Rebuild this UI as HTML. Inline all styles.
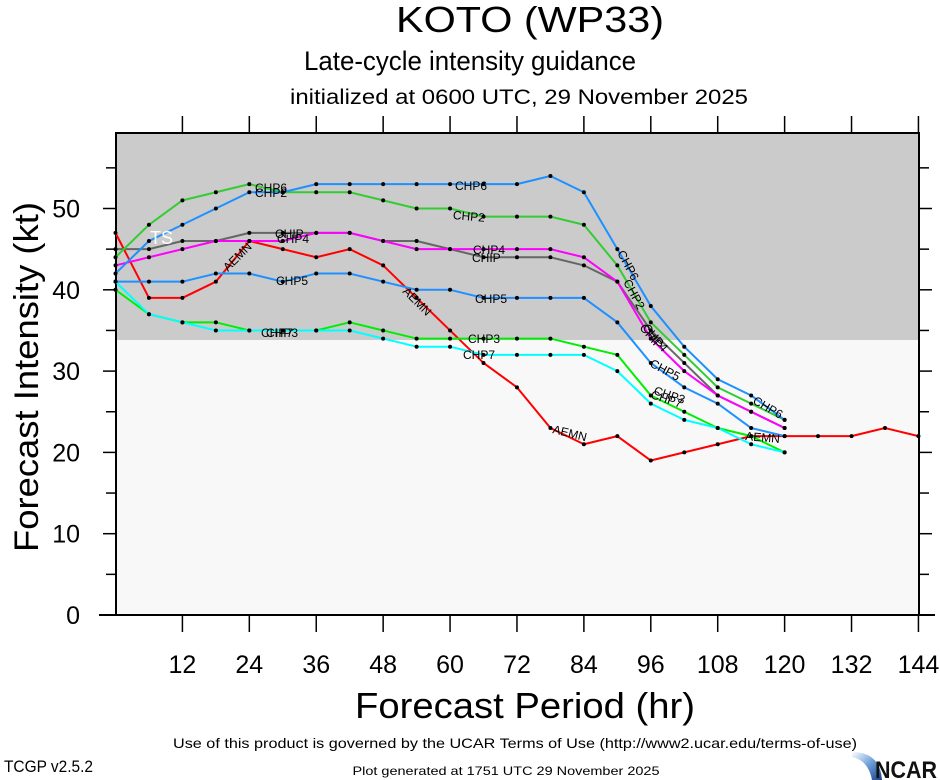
<!DOCTYPE html>
<html><head><meta charset="utf-8"><style>
html,body{margin:0;padding:0;background:#fff;}
svg{display:block;font-family:"Liberation Sans",sans-serif;}
</style></head><body>
<svg id="s" width="940" height="780" viewBox="0 0 940 780" xmlns="http://www.w3.org/2000/svg">
<rect x="0" y="0" width="940" height="780" fill="#fff"/>
<text x="530" y="32" font-size="36" text-anchor="middle" textLength="268" lengthAdjust="spacingAndGlyphs">KOTO (WP33)</text>
<text x="470" y="70" font-size="27" text-anchor="middle" textLength="332" lengthAdjust="spacingAndGlyphs">Late-cycle intensity guidance</text>
<text x="519" y="104" font-size="21" text-anchor="middle" textLength="458" lengthAdjust="spacingAndGlyphs">initialized at 0600 UTC, 29 November 2025</text>
<rect x="116" y="133" width="803" height="482" fill="#f8f8f8"/>
<rect x="116" y="133" width="803" height="207" fill="#cbcbcb"/>
<g id="ticks" stroke="#000" stroke-width="1.5"></g>
<rect x="116" y="133" width="803" height="482" fill="none" stroke="#000" stroke-width="2"/>
<line x1="99" y1="615" x2="935" y2="615" stroke="#000" stroke-width="2"/>
<g id="ylab" font-size="25" text-anchor="end"></g>
<g id="xlab" font-size="25" text-anchor="middle"></g>
<text transform="translate(38,377) rotate(-90)" font-size="34" text-anchor="middle" textLength="350" lengthAdjust="spacingAndGlyphs">Forecast Intensity (kt)</text>
<text x="525" y="718" font-size="36" text-anchor="middle" textLength="340" lengthAdjust="spacingAndGlyphs">Forecast Period (hr)</text>
<g id="series"></g>
<g font-size="12" fill="#000">
<text x="150" y="244" font-size="18" fill="#fff">TS</text>
<text x="255" y="192">CHP6</text><text x="255" y="197">CHP2</text>
<text x="275" y="238">CHIP</text><text x="277" y="243">CHP4</text>
<text x="276" y="285">CHP5</text>
<text x="261" y="337">CHP7</text><text x="266" y="337">CHP3</text>
<text transform="translate(228,272) rotate(-45)">AEMN</text>
<text x="455" y="190">CHP6</text>
<text x="453" y="219" transform="rotate(5 453 215)">CHP2</text>
<text x="473" y="254">CHP4</text><text x="472" y="262">CHIP</text>
<text x="475" y="303">CHP5</text>
<text transform="translate(402,292) rotate(45)">AEMN</text>
<text x="468" y="343">CHP3</text>
<text x="463" y="359">CHP7</text>
<text transform="translate(552,433) rotate(14)">AEMN</text>
<text transform="translate(617,253) rotate(62)">CHP6</text>
<text transform="translate(623,282) rotate(62)">CHP2</text>
<text transform="translate(639,328) rotate(50)">CHIP</text>
<text transform="translate(642,328) rotate(50)">CHP4</text>
<text transform="translate(649,366) rotate(28)">CHP5</text>
<text transform="translate(653,394) rotate(18)">CHP3</text>
<text transform="translate(650,398) rotate(18)">CHP7</text>
<text transform="translate(752,403) rotate(30)">CHP6</text>
<text transform="translate(745,440) rotate(5)">AEMN</text>
</g>
<text x="515" y="748" font-size="14" text-anchor="middle" textLength="684" lengthAdjust="spacingAndGlyphs">Use of this product is governed by the UCAR Terms of Use (http://www2.ucar.edu/terms-of-use)</text>
<text x="4" y="772" font-size="17" textLength="89" lengthAdjust="spacingAndGlyphs">TCGP v2.5.2</text>
<text x="506" y="775" font-size="12" text-anchor="middle" textLength="307" lengthAdjust="spacingAndGlyphs">Plot generated at 1751 UTC   29 November 2025</text>
<defs><linearGradient id="ng" x1="0" y1="0" x2="1" y2="1"><stop offset="0" stop-color="#fff"/><stop offset="0.5" stop-color="#6fa0d8"/><stop offset="1" stop-color="#1a3f8a"/></linearGradient></defs>
<path d="M852 752 Q880 752 882 780 L872 780 Q868 760 852 757Z" fill="url(#ng)"/>
<text x="875" y="778" font-size="24" font-weight="bold" fill="#111" textLength="62" lengthAdjust="spacingAndGlyphs">NCAR</text>
</svg>
<script>
var NS="http://www.w3.org/2000/svg";
function X(h){return 115.5+h*5.576;}
function Y(v){return 615-v*8.13;}
function el(t,a,p){var e=document.createElementNS(NS,t);for(var k in a)e.setAttribute(k,a[k]);p.appendChild(e);return e;}
var tk=document.getElementById("ticks");
for(var h=12;h<=144;h+=12){var x=X(h);el("line",{x1:x,y1:615,x2:x,y2:632},tk);el("line",{x1:x,y1:133,x2:x,y2:116},tk);}
for(var v=0;v<=55;v+=5){var y=Y(v);var L=(v%10==0)?13:10;if(v>0)el("line",{x1:116,y1:y,x2:116-L,y2:y},tk);el("line",{x1:919,y1:y,x2:919+L,y2:y},tk);}
var yl=document.getElementById("ylab");
for(var v=0;v<=50;v+=10){var t=el("text",{x:80,y:Y(v)+9},yl);t.textContent=v;}
var xl=document.getElementById("xlab");
for(var h=12;h<=144;h+=12){var t=el("text",{x:X(h),y:673},xl);t.textContent=h;}
var S=[
["#ff0000",[47,39,39,41,46,45,44,45,43,39,35,31,28,23,21,22,19,20,21,22,22,22,22,23,22]],
["#666666",[45,45,46,46,47,47,47,47,46,46,45,44,44,44,43,41,35,31,27,25,23]],
["#ff00ff",[43,44,45,46,46,46,47,47,46,45,45,45,45,45,44,41,34,30,27,25,23]],
["#33cc33",[44,48,51,52,53,52,52,52,51,50,50,49,49,49,48,43,36,32,28,26,24]],
["#1e90ff",[42,46,48,50,52,52,53,53,53,53,53,53,53,54,52,45,38,33,29,27,24]],
["#1e90ff",[41,41,41,42,42,41,42,42,41,40,40,39,39,39,39,36,31,28,26,23,22]],
["#00ee00",[40,37,36,36,35,35,35,36,35,34,34,34,34,34,33,32,27,25,23,22,20]],
["#00ffff",[41,37,36,35,35,35,35,35,34,33,33,32,32,32,32,30,26,24,23,21,20]]
];
var g=document.getElementById("series");
S.forEach(function(s){var pts=s[1].map(function(v,i){return X(i*6)+","+Y(v);}).join(" ");
el("polyline",{points:pts,fill:"none",stroke:s[0],"stroke-width":2,"stroke-linejoin":"round"},g);});
S.forEach(function(s){s[1].forEach(function(v,i){el("circle",{cx:X(i*6),cy:Y(v),r:2,fill:"#000"},g);});});
</script>
</body></html>
